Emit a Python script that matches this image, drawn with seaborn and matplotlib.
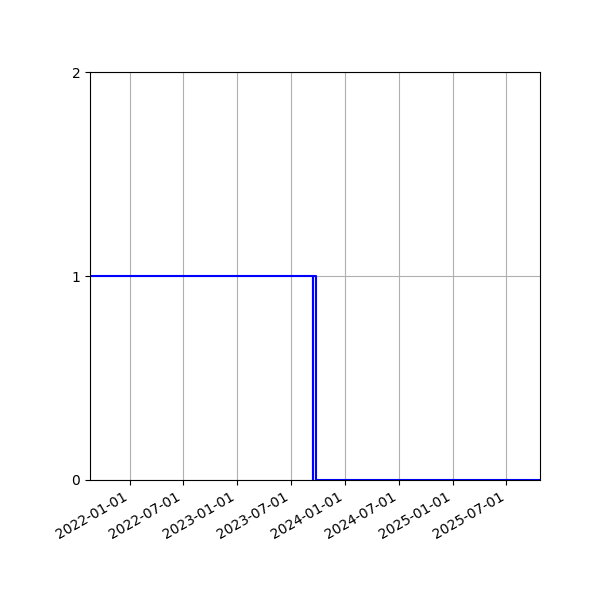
import numpy as np
import pandas as pd
import matplotlib
matplotlib.use('Agg')
import matplotlib.pyplot as plt
import matplotlib.dates as mdates
import seaborn as sns

# status series (one zero-length dip, then a drop)
dates = ['2021-08-20', '2023-09-14', '2023-09-14', '2023-09-14',
         '2023-09-24', '2023-09-24', '2025-10-23']
values = [1, 1, 0, 1, 1, 0, 0]
y_ticks = [0, 1, 2]

df = pd.DataFrame({'date': pd.to_datetime(dates), 'value': values})

fig, ax = plt.subplots(figsize=(6, 6), dpi=100)
sns.lineplot(data=df, x='date', y='value', ax=ax, color='blue',
             estimator=None, sort=False, linewidth=1.5)

ax.set_xlim(df['date'].min(), df['date'].max())
ax.set_ylim(0, 2)
ax.set_yticks(y_ticks)
ax.xaxis.set_major_locator(mdates.MonthLocator(bymonth=[1, 7]))
ax.xaxis.set_major_formatter(mdates.DateFormatter('%Y-%m-%d'))
ax.grid(True)
ax.set_xlabel('')
ax.set_ylabel('')
fig.autofmt_xdate()
fig.subplots_adjust(left=0.15, right=0.9, bottom=0.2, top=0.88)

plt.savefig('out.png', dpi=100)
